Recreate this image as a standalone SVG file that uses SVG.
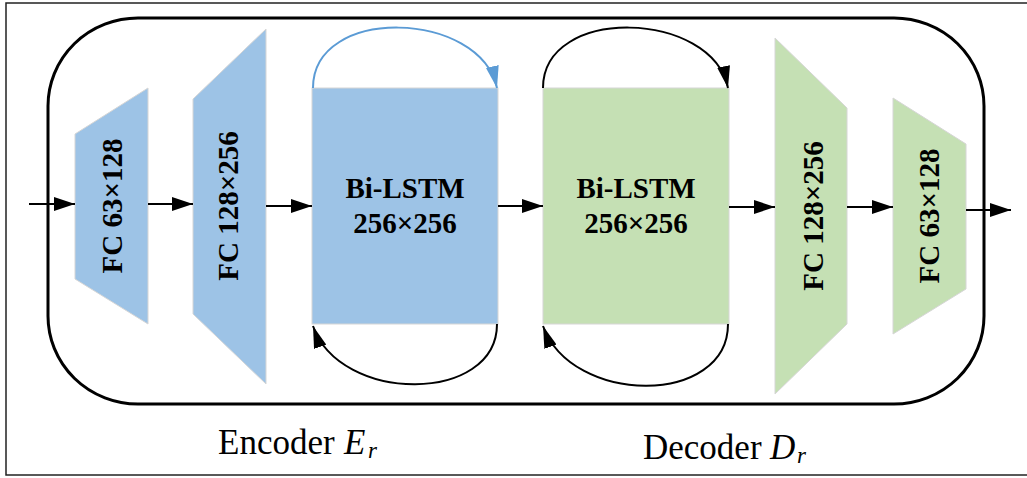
<svg xmlns="http://www.w3.org/2000/svg" width="1027" height="478" viewBox="0 0 1027 478">
  <style>
    .enc { fill: #9DC3E6; stroke: #d6d6d6; stroke-width: 1; }
    .dec { fill: #C5E0B4; stroke: #d6d6d6; stroke-width: 1; }
    .lbl { font-family: "Liberation Serif", "Times New Roman", serif; font-weight: bold; font-size: 29px; fill: #000; text-anchor: middle; }
    .cap { font-family: "Liberation Serif", "Times New Roman", serif; font-size: 35px; fill: #000; }
    .arr { fill: none; stroke: #000; stroke-width: 2; }
    .loop { fill: none; stroke: #000; stroke-width: 2; }
    .bloop { fill: none; stroke: #5B9BD5; stroke-width: 2; }
  </style>
  <defs>
    <marker id="ah" markerUnits="userSpaceOnUse" markerWidth="22" markerHeight="14" refX="21" refY="7" orient="auto">
      <path d="M0,0 L21,7 L0,14 z" fill="#000"/>
    </marker>
    <marker id="lh" markerUnits="userSpaceOnUse" markerWidth="23" markerHeight="13" refX="22" refY="6.5" orient="auto">
      <path d="M0,0 L22,6.5 L0,13 z" fill="#000"/>
    </marker>
    <marker id="bh" markerUnits="userSpaceOnUse" markerWidth="23" markerHeight="13" refX="22" refY="6.5" orient="auto">
      <path d="M0,0 L22,6.5 L0,13 z" fill="#5B9BD5"/>
    </marker>
  </defs>

  <rect x="0" y="0" width="1027" height="478" fill="#fff"/>
  <rect id="frame" x="6" y="3" width="1040" height="472" fill="none" stroke="#222" stroke-width="1.5"/>
  <rect id="container" x="48" y="18" width="936" height="386" rx="90" ry="88" fill="none" stroke="#000" stroke-width="3"/>

  <g id="enc-fc1">
    <polygon class="enc" points="75,134 148,88 148,324 75,279"/>
    <text class="lbl" transform="translate(122,206) rotate(-90)">FC 63×128</text>
  </g>
  <g id="enc-fc2">
    <polygon class="enc" points="193,99 266,29 266,384 193,314"/>
    <text class="lbl" transform="translate(238,206) rotate(-90)">FC 128×256</text>
  </g>
  <g id="enc-lstm">
    <rect class="enc" x="312" y="88" width="186" height="236"/>
    <text class="lbl" x="405" y="198">Bi-LSTM</text>
    <text class="lbl" x="405" y="233">256×256</text>
  </g>
  <g id="dec-lstm">
    <rect class="dec" x="543" y="88" width="186" height="236"/>
    <text class="lbl" x="636" y="198">Bi-LSTM</text>
    <text class="lbl" x="636" y="233">256×256</text>
  </g>
  <g id="dec-fc1">
    <polygon class="dec" points="775,38 847,108 847,324 775,394"/>
    <text class="lbl" transform="translate(823,216) rotate(-90)">FC 128×256</text>
  </g>
  <g id="dec-fc2">
    <polygon class="dec" points="893,98 966,144 966,289 893,334"/>
    <text class="lbl" transform="translate(939,216) rotate(-90)">FC 63×128</text>
  </g>

  <g id="connectors">
    <line class="arr" x1="29" y1="204" x2="75" y2="204" marker-end="url(#ah)"/>
    <line class="arr" x1="148" y1="204" x2="193" y2="204" marker-end="url(#ah)"/>
    <line class="arr" x1="266" y1="206" x2="312" y2="206" marker-end="url(#ah)"/>
    <line class="arr" x1="498" y1="206" x2="543" y2="206" marker-end="url(#ah)"/>
    <line class="arr" x1="729" y1="207" x2="775" y2="207" marker-end="url(#ah)"/>
    <line class="arr" x1="847" y1="207" x2="893" y2="207" marker-end="url(#ah)"/>
    <line class="arr" x1="966" y1="210" x2="1011" y2="210" marker-end="url(#ah)"/>
    <path class="bloop" d="M313,88 C313,5 480,10 497,88" marker-end="url(#bh)"/>
    <path class="loop" d="M543,88 C543,5 712,10 728,88" marker-end="url(#lh)"/>
    <path class="loop" d="M497,324 C497,404 340,404 313,326" marker-end="url(#lh)"/>
    <path class="loop" d="M728,324 C728,406 572,406 543,326" marker-end="url(#lh)"/>
  </g>

  <g id="labels">
    <text class="cap" x="218" y="454">Encoder <tspan x="344" font-style="italic">E</tspan><tspan x="368" y="458" font-style="italic" font-size="23">r</tspan></text>
    <text class="cap" x="643" y="459">Decoder <tspan x="770" font-style="italic">D</tspan><tspan x="797" y="463" font-style="italic" font-size="23">r</tspan></text>
  </g>
</svg>
